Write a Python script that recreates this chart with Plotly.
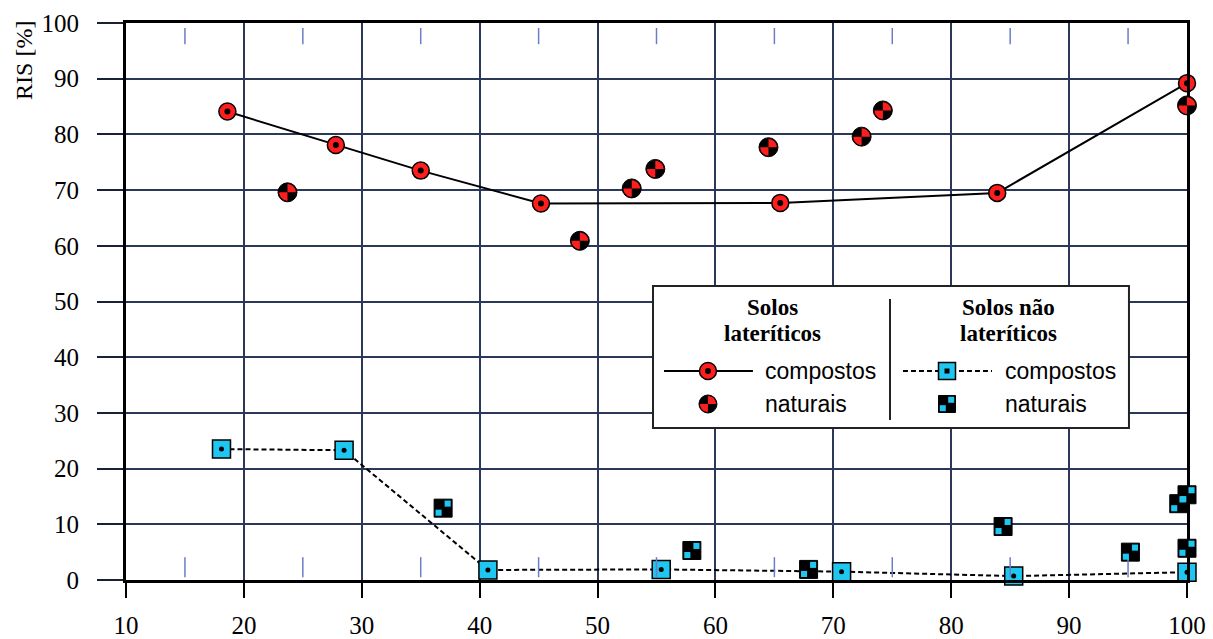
import plotly.graph_objects as go

# ---------------- data ----------------
lat_comp_x = [18.6, 27.8, 35.0, 45.2, 65.5, 83.9, 100.0]
lat_comp_y = [84.1, 78.1, 73.5, 67.6, 67.7, 69.5, 89.2]

lat_nat_x = [23.7, 48.5, 52.9, 54.9, 64.5, 72.4, 74.2, 100.0]
lat_nat_y = [69.6, 60.9, 70.3, 73.8, 77.7, 79.6, 84.3, 85.2]

nlat_comp_x = [18.1, 28.5, 40.7, 55.4, 70.7, 85.3, 100.0]
nlat_comp_y = [23.5, 23.3, 1.8, 1.9, 1.5, 0.7, 1.4]

nlat_nat_x = [36.9, 58.0, 67.9, 84.4, 95.2, 99.3, 100.0, 100.0]
nlat_nat_y = [12.9, 5.3, 1.9, 9.6, 5.0, 13.7, 15.3, 5.7]

x_ticks = [10, 20, 30, 40, 50, 60, 70, 80, 90, 100]
y_ticks = [0, 10, 20, 30, 40, 50, 60, 70, 80, 90, 100]
minor_x = [15, 25, 35, 45, 55, 65, 75, 85, 95]
threshold = 60
X_RANGE = [10, 100]
Y_RANGE = [0, 100]

y_title = "RIS [%]"
head_left = ["Solos", "lateríticos"]
head_right = ["Solos não", "lateríticos"]
lab_comp = "compostos"
lab_nat = "naturais"

# ---------------- styles ----------------
RED = "#ff1e1e"
CYAN = "#1ec6f0"
GRID = "#2c3859"
MINOR = "#6b7dc9"
SERIF = "Liberation Serif"
SANS = "Liberation Sans"


def px_(v):
    return (v - X_RANGE[0]) / (X_RANGE[1] - X_RANGE[0])


def py_(v):
    return (v - Y_RANGE[0]) / (Y_RANGE[1] - Y_RANGE[0])


fig = go.Figure()

# laterite compostos
fig.add_trace(go.Scatter(x=lat_comp_x, y=lat_comp_y, mode="lines+markers",
                         line=dict(color="black", width=2),
                         marker=dict(symbol="circle", size=17, color=RED,
                                     line=dict(color="black", width=1.5)),
                         cliponaxis=False))
fig.add_trace(go.Scatter(x=lat_comp_x, y=lat_comp_y, mode="markers",
                         marker=dict(symbol="circle", size=6, color="black"),
                         cliponaxis=False))
# laterite naturais (base)
fig.add_trace(go.Scatter(x=lat_nat_x, y=lat_nat_y, mode="markers",
                         marker=dict(symbol="circle", size=19, color="black",
                                     line=dict(color="black", width=1)),
                         cliponaxis=False))
# non-laterite compostos
fig.add_trace(go.Scatter(x=nlat_comp_x, y=nlat_comp_y, mode="lines+markers",
                         line=dict(color="black", width=2, dash="5px,3px"),
                         marker=dict(symbol="square", size=18, color=CYAN,
                                     line=dict(color="black", width=1.5)),
                         cliponaxis=False))
fig.add_trace(go.Scatter(x=nlat_comp_x, y=nlat_comp_y, mode="markers",
                         marker=dict(symbol="circle", size=5, color="black"),
                         cliponaxis=False))
# non-laterite naturais (base)
fig.add_trace(go.Scatter(x=nlat_nat_x, y=nlat_nat_y, mode="markers",
                         marker=dict(symbol="square", size=18, color="black",
                                     line=dict(color="black", width=1)),
                         cliponaxis=False))

shapes = []


def quarter(r, sx, sy):
    k = 0.5523 * r
    return (f"M0,0 L{sx*r},0 C{sx*r},{sy*k} {sx*k},{sy*r} 0,{sy*r} Z")


def quad_circle(xa, ya, r=8.3):
    out = []
    for sx, sy in [(1, 1), (-1, -1)]:
        out.append(dict(type="path", xref="paper", yref="paper",
                        xsizemode="pixel", ysizemode="pixel",
                        xanchor=xa, yanchor=ya, path=quarter(r, sx, sy),
                        fillcolor=RED, line=dict(width=0), layer="above"))
    return out


def checker(xa, ya, a=1.5, b=7.6):
    out = []
    for s in [1, -1]:
        out.append(dict(type="rect", xref="paper", yref="paper",
                        xsizemode="pixel", ysizemode="pixel",
                        xanchor=xa, yanchor=ya,
                        x0=s * a, x1=s * b, y0=s * a, y1=s * b,
                        fillcolor=CYAN, line=dict(width=0), layer="above"))
    return out


# threshold line
shapes.append(dict(type="line", xref="paper", yref="y", x0=0, x1=1,
                   y0=threshold, y1=threshold,
                   line=dict(color="#222", width=1.2, dash="8px,5px"),
                   layer="below"))
# minor ticks top & bottom
for xm in minor_x:
    shapes.append(dict(type="line", xref="x", yref="paper", x0=xm, x1=xm,
                       y0=0.005, y1=0.041, line=dict(color=MINOR, width=1.5)))
    shapes.append(dict(type="line", xref="x", yref="paper", x0=xm, x1=xm,
                       y0=0.962, y1=0.991, line=dict(color=MINOR, width=1.5)))

for xv, yv in zip(lat_nat_x, lat_nat_y):
    shapes += quad_circle(px_(xv), py_(yv))
for xv, yv in zip(nlat_nat_x, nlat_nat_y):
    shapes += checker(px_(xv), py_(yv))

# ---------------- legend (drawn) ----------------
shapes.append(dict(type="rect", xref="paper", yref="paper",
                   x0=0.4967, x1=0.9453, y0=0.2729, y1=0.5278,
                   fillcolor="white", line=dict(color="#222", width=2),
                   layer="above"))
shapes.append(dict(type="line", xref="paper", yref="paper",
                   x0=0.7201, x1=0.7201, y0=0.2873, y1=0.5045,
                   line=dict(color="#222", width=2), layer="above"))
row1, row2 = 0.3752, 0.3160
shapes.append(dict(type="line", xref="paper", yref="paper",
                   x0=0.5071, x1=0.5909, y0=row1, y1=row1,
                   line=dict(color="black", width=2), layer="above"))
mx_l, mx_r = 0.5485, 0.7738
shapes.append(dict(type="circle", xref="paper", yref="paper",
                   xsizemode="pixel", ysizemode="pixel", xanchor=mx_l, yanchor=row1,
                   x0=-8.5, x1=8.5, y0=-8.5, y1=8.5, fillcolor=RED,
                   line=dict(color="black", width=1.5), layer="above"))
shapes.append(dict(type="circle", xref="paper", yref="paper",
                   xsizemode="pixel", ysizemode="pixel", xanchor=mx_l, yanchor=row1,
                   x0=-3, x1=3, y0=-3, y1=3, fillcolor="black",
                   line=dict(width=0), layer="above"))
shapes.append(dict(type="circle", xref="paper", yref="paper",
                   xsizemode="pixel", ysizemode="pixel", xanchor=mx_l, yanchor=row2,
                   x0=-9, x1=9, y0=-9, y1=9, fillcolor="black",
                   line=dict(color="black", width=1), layer="above"))
shapes += quad_circle(mx_l, row2, r=8)
shapes.append(dict(type="line", xref="paper", yref="paper",
                   x0=0.7323, x1=0.8162, y0=row1, y1=row1,
                   line=dict(color="black", width=2, dash="5px,3px"), layer="above"))
shapes.append(dict(type="rect", xref="paper", yref="paper",
                   xsizemode="pixel", ysizemode="pixel", xanchor=mx_r, yanchor=row1,
                   x0=-8.5, x1=8.5, y0=-8.5, y1=8.5, fillcolor=CYAN,
                   line=dict(color="black", width=1.5), layer="above"))
shapes.append(dict(type="rect", xref="paper", yref="paper",
                   xsizemode="pixel", ysizemode="pixel", xanchor=mx_r, yanchor=row1,
                   x0=-2.5, x1=2.5, y0=-2.5, y1=2.5, fillcolor="black",
                   line=dict(width=0), layer="above"))
shapes.append(dict(type="rect", xref="paper", yref="paper",
                   xsizemode="pixel", ysizemode="pixel", xanchor=mx_r, yanchor=row2,
                   x0=-8.5, x1=8.5, y0=-8.5, y1=8.5, fillcolor="black",
                   line=dict(color="black", width=1), layer="above"))
shapes += checker(mx_r, row2, a=1.2, b=7.2)

HEAD = dict(family=SERIF, size=23, color="black")
LAB = dict(family=SANS, size=23, color="black")
annotations = [
    dict(text=y_title, xref="paper", yref="paper", x=-0.0961, y=0.932,
         textangle=-90, showarrow=False, xanchor="center", yanchor="middle",
         font=dict(family=SERIF, size=24, color="black")),
    dict(text=f"<b>{head_left[0]}</b>", xref="paper", yref="paper", x=0.6098, y=0.4901,
         showarrow=False, font=HEAD, xanchor="center", yanchor="middle"),
    dict(text=f"<b>{head_left[1]}</b>", xref="paper", yref="paper", x=0.6098, y=0.4417,
         showarrow=False, font=HEAD, xanchor="center", yanchor="middle"),
    dict(text=f"<b>{head_right[0]}</b>", xref="paper", yref="paper", x=0.8313, y=0.4901,
         showarrow=False, font=HEAD, xanchor="center", yanchor="middle"),
    dict(text=f"<b>{head_right[1]}</b>", xref="paper", yref="paper", x=0.8313, y=0.4417,
         showarrow=False, font=HEAD, xanchor="center", yanchor="middle"),
    dict(text=lab_comp, xref="paper", yref="paper", x=0.6004, y=row1,
         showarrow=False, font=LAB, xanchor="left", yanchor="middle"),
    dict(text=lab_nat, xref="paper", yref="paper", x=0.6004, y=row2,
         showarrow=False, font=LAB, xanchor="left", yanchor="middle"),
    dict(text=lab_comp, xref="paper", yref="paper", x=0.8266, y=row1,
         showarrow=False, font=LAB, xanchor="left", yanchor="middle"),
    dict(text=lab_nat, xref="paper", yref="paper", x=0.8266, y=row2,
         showarrow=False, font=LAB, xanchor="left", yanchor="middle"),
]

fig.update_layout(
    width=1213, height=639,
    margin=dict(l=126, r=26, t=23, b=59, autoexpand=False),
    paper_bgcolor="white", plot_bgcolor="white",
    showlegend=False,
    shapes=shapes, annotations=annotations,
    xaxis=dict(range=X_RANGE, tickvals=x_ticks, showgrid=True,
               gridcolor=GRID, gridwidth=1.5, zeroline=False, automargin=False,
               ticks="outside", ticklen=15, tickwidth=2, tickcolor="black",
               showline=True, linewidth=3, linecolor="black", mirror=True,
               ticklabelstandoff=6,
               tickfont=dict(family=SERIF, size=25, color="black")),
    yaxis=dict(range=Y_RANGE, tickvals=y_ticks, showgrid=True,
               gridcolor=GRID, gridwidth=1.5, zeroline=False, automargin=False,
               ticks="outside", ticklen=26, tickwidth=1.5, tickcolor="#1a2035",
               showline=True, linewidth=3, linecolor="black", mirror=True,
               ticklabelstandoff=13,
               tickfont=dict(family=SERIF, size=25, color="black")),
)

fig.write_html("out.html")
